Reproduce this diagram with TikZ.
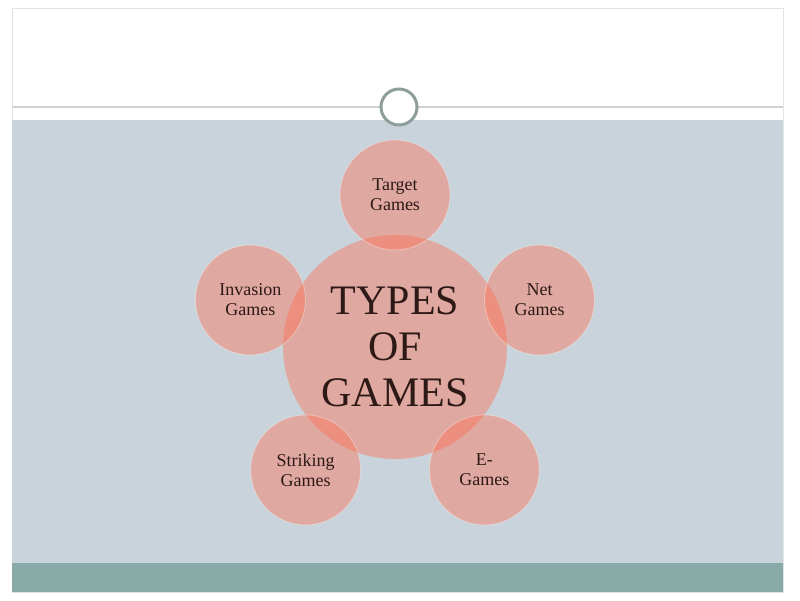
\documentclass[tikz,border=0pt]{standalone}
\usepackage{fontspec}
\setmainfont{Liberation Serif}
\usetikzlibrary{positioning,calc}

\definecolor{slate}{RGB}{200,211,219}
\definecolor{teal band}{RGB}{138,170,168}
\definecolor{petal}{RGB}{255,110,80}
\definecolor{ink}{RGB}{45,25,22}
\definecolor{rule}{RGB}{206,210,210}
\definecolor{ring}{RGB}{142,158,156}

\begin{document}
\begin{tikzpicture}[
    x=1pt, y=1pt,
    core/.style={circle, fill=petal, fill opacity=0.42, text opacity=1, text=ink, minimum size=224pt, inner sep=0pt, align=center, font=\fontsize{42}{46}\selectfont},
    leaf/.style={circle, fill=petal, fill opacity=0.42, text opacity=1, text=ink, minimum size=110pt, inner sep=0pt, align=center, font=\fontsize{18}{20}\selectfont, draw=white, draw opacity=0.3, line width=1pt}
]

\useasboundingbox (0,0) rectangle (800,600);
\fill[white] (0,0) rectangle (800,600);

% slide frame
\draw[rule!60, fill=white] (12,8) rectangle (783,592);
\fill[slate] (12,37) rectangle (783,480);
\fill[teal band] (12,8) rectangle (783,37);
\draw[rule, line width=2pt] (12,493) -- (783,493);
\node[circle, draw=ring, fill=white, line width=3pt, minimum size=36pt] (knob) at (399,493) {};

% hub and petals
\node[core] (core) at (395,253) {TYPES\\OF\\GAMES};

\foreach \ang/\nm/\txt in {90/target/Target\\Games, 18/net/Net\\Games, -54/egames/E-\\Games, -126/striking/Striking\\Games, 162/invasion/Invasion\\Games} {
    \node[leaf] (\nm) at ($(core)+(\ang:152)$) {\txt};
}

\end{tikzpicture}
\end{document}
